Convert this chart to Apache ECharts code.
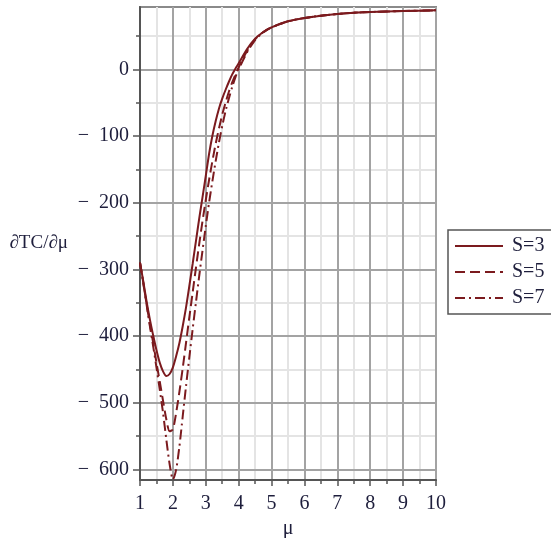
<!DOCTYPE html>
<html>
<head>
<meta charset="utf-8">
<script src="https://cdn.jsdelivr.net/npm/echarts@6/dist/echarts.min.js"></script>
<style>html,body{margin:0;padding:0;background:#fff;}#c{width:551px;height:538px;}</style>
</head>
<body>
<div id="c"></div>
<script>
const muValues = [1.0,1.1,1.2,1.3,1.4,1.5,1.6,1.7,1.8,1.9,2.0,2.1,2.2,2.3,2.4,2.5,2.6,2.7,2.8,2.9,3.0,3.1,3.2,3.3,3.4,3.5,3.6,3.7,3.8,3.9,4.0,4.25,4.5,4.75,5,5.5,6,6.5,7,7.5,8,9,10];
const s3Values = [-290,-318,-348,-375,-399,-421,-440,-453,-460,-457,-447,-430,-410,-385,-357,-325,-292,-258,-224,-192,-160,-127,-100,-78,-59,-44,-31,-19,-8,1,9,30,46,56,63,72,77,80.5,83,85,86,87.5,88.5];
const s5Values = [-290,-320,-352,-382,-410,-440,-468,-497,-525,-543,-540,-515,-483,-448,-410,-372,-335,-298,-262,-228,-196,-166,-138,-112,-89,-68,-50,-34,-20,-8,3,27,45,56,63,72,77,80.5,83,85,86,87.5,88.5];
const s7Values = [-290,-321,-353,-385,-415,-447,-480,-515,-555,-592,-615,-600,-565,-520,-475,-432,-390,-350,-310,-272,-235,-200,-168,-138,-110,-85,-63,-44,-27,-12,0,25,44,55.5,63,72,77,80.5,83,85,86,87.5,88.5];
const seriesNames = ['S=3','S=5','S=7'];
const xTicks = [1,2,3,4,5,6,7,8,9,10];
const yTicks = [-600,-500,-400,-300,-200,-100,0];
const yMinorTicks = [-550,-450,-350,-250,-150,-50,50];

const color = '#7b1a1e';
const font = 'Liberation Serif';
const textColor = '#1e1e3c';
const pair = (ys) => muValues.map((x, i) => [x, ys[i]]);
const chart = echarts.init(document.getElementById('c'), null, {renderer: 'canvas'});
const lineTypes = ['solid', [10, 5], [10, 4, 2, 4]];
const allY = [s3Values, s5Values, s7Values];
const yMin = -616, yMax = 93.5;

chart.setOption({
  animation: false,
  backgroundColor: '#fff',
  grid: {left: 140, right: 115, top: 7, bottom: 58, show: true, borderColor: '#8a8a8a', borderWidth: 2,
    outerBoundsMode: 'none', containLabel: false},
  legend: {
    orient: 'vertical', left: 448, top: 230,
    data: seriesNames,
    itemWidth: 48, itemHeight: 14, itemGap: 6,
    itemStyle: {opacity: 0},
    borderColor: '#555', borderWidth: 1.5, padding: [6, 14, 6, 6],
    textStyle: {fontFamily: font, fontSize: 20, color: textColor, padding: [0, 0, 0, 4]}
  },
  xAxis: {
    type: 'value', min: 1, max: 10, interval: 1,
    name: 'μ', nameLocation: 'middle', nameGap: 34,
    nameTextStyle: {fontFamily: font, fontSize: 20, color: textColor},
    axisLine: {show: true, onZero: false, lineStyle: {color: '#555', width: 2}},
    axisTick: {show: true, length: 6, lineStyle: {color: '#555', width: 1.5}},
    minorTick: {show: true, splitNumber: 2, length: 4, lineStyle: {color: '#555', width: 1.5}},
    axisLabel: {fontFamily: font, fontSize: 20, color: textColor, margin: 14},
    splitLine: {show: true, lineStyle: {color: '#a3a3a3', width: 2}},
    minorSplitLine: {show: true, lineStyle: {color: '#e4e4e4', width: 2}},
    z: 1
  },
  yAxis: [{
    type: 'value', min: yMin, max: yMax,
    name: '∂TC/∂μ', nameLocation: 'middle', nameGap: 72, nameRotate: 0,
    nameTextStyle: {fontFamily: font, fontSize: 19, color: textColor, align: 'right', padding: [6, 0, 0, 0]},
    axisLine: {show: true, onZero: false, lineStyle: {color: '#555', width: 2}},
    axisTick: {show: true, length: 7, customValues: yTicks, lineStyle: {color: '#555', width: 1.5}},
    axisLabel: {fontFamily: font, fontSize: 20, color: textColor, margin: 11, customValues: yTicks,
      formatter: v => (v < 0 ? '\u2212\u2002' + Math.abs(v) : String(v))},
    splitLine: {show: true, lineStyle: {color: '#a3a3a3', width: 2}},
    z: 2
  }, {
    type: 'value', min: yMin, max: yMax, position: 'left',
    axisLine: {show: false},
    axisTick: {show: true, length: 4, customValues: yMinorTicks, lineStyle: {color: '#555', width: 1.5}},
    axisLabel: {show: false},
    splitLine: {show: true, lineStyle: {color: '#e4e4e4', width: 2}},
    z: 0
  }],
  series: seriesNames.map((n, k) => ({
    name: n, type: 'line', data: pair(allY[k]), symbol: 'none', smooth: 0.25,
    clip: true, yAxisIndex: 0, z: 5,
    lineStyle: {color: color, width: 2, type: lineTypes[k]},
    itemStyle: {color: color}
  }))
});
</script>
</body>
</html>
